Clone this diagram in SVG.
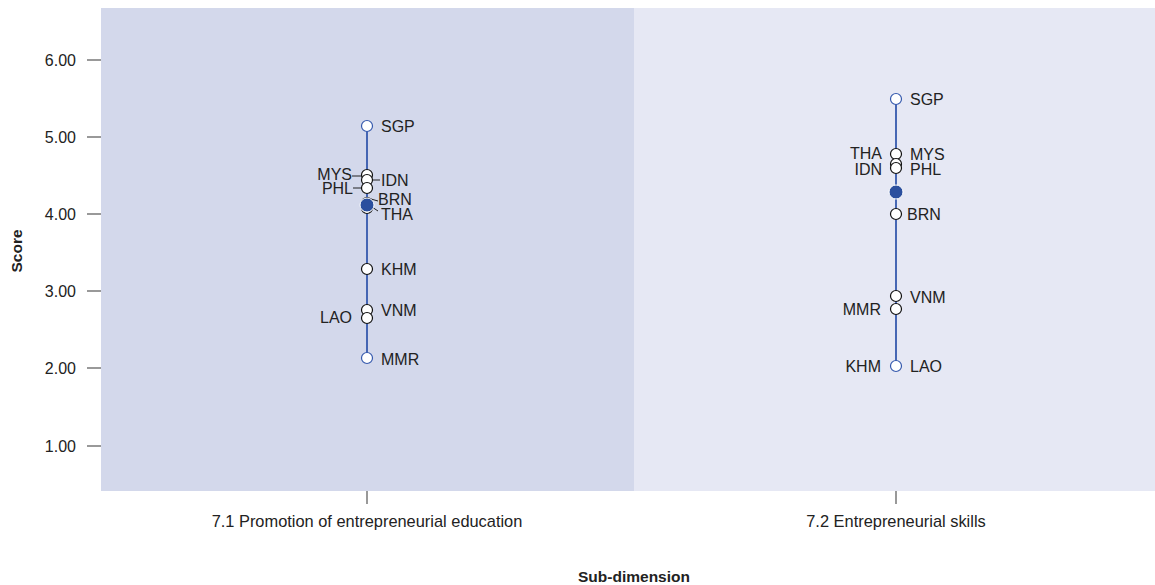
<svg xmlns="http://www.w3.org/2000/svg" width="1155" height="585" viewBox="0 0 1155 585">
<style>
text{font-family:"Liberation Sans",Arial,sans-serif;font-size:16px;fill:#222}
.tick{stroke:#555;stroke-width:1.2}
.rng{stroke:#3559ad;stroke-width:1.8}
.pt{fill:#fff;stroke:#111;stroke-width:1.2}
.ext{fill:#fff;stroke:#3559ad;stroke-width:1.2}
.mean{fill:#2b4f9e;stroke:#fff;stroke-width:1}
.ld{stroke:#222;stroke-width:1;fill:none}
.r{text-anchor:end}
.cat{font-size:16.4px}
.ttl{font-weight:bold;font-size:15.5px}
</style>
<rect width="1155" height="585" fill="#fff"/>
<g id="panels">
<rect x="101" y="8" width="533" height="483" fill="#d3d8eb"/>
<rect x="634" y="8" width="521" height="483" fill="#e6e8f4"/>
</g>
<g id="yaxis">
<line class="tick" x1="87" y1="60" x2="101" y2="60"/>
<line class="tick" x1="87" y1="137" x2="101" y2="137"/>
<line class="tick" x1="87" y1="214" x2="101" y2="214"/>
<line class="tick" x1="87" y1="291" x2="101" y2="291"/>
<line class="tick" x1="87" y1="368" x2="101" y2="368"/>
<line class="tick" x1="87" y1="446" x2="101" y2="446"/>
<text class="r" x="76" y="66">6.00</text>
<text class="r" x="76" y="143">5.00</text>
<text class="r" x="76" y="220">4.00</text>
<text class="r" x="76" y="297">3.00</text>
<text class="r" x="76" y="374">2.00</text>
<text class="r" x="76" y="452">1.00</text>
<text class="ttl" transform="translate(22,251) rotate(-90)" text-anchor="middle">Score</text>
</g>
<g id="xaxis">
<line class="tick" x1="367" y1="491" x2="367" y2="504"/>
<line class="tick" x1="896" y1="491" x2="896" y2="504"/>
<text class="cat" x="367" y="527" text-anchor="middle">7.1 Promotion of entrepreneurial education</text>
<text class="cat" x="896" y="527" text-anchor="middle">7.2 Entrepreneurial skills</text>
<text class="ttl" x="634" y="582" text-anchor="middle">Sub-dimension</text>
</g>
<g id="connectors">
<line class="rng" x1="367" y1="126" x2="367" y2="358"/>
<line class="rng" x1="896" y1="99" x2="896" y2="366"/>
<line class="ld" x1="352" y1="176" x2="362" y2="176"/>
<line class="ld" x1="372" y1="180" x2="380" y2="180"/>
<line class="ld" x1="353" y1="188" x2="361" y2="188"/>
<line class="ld" x1="371" y1="199" x2="378" y2="201"/>
<line class="ld" x1="372" y1="207" x2="378" y2="211"/>
</g>
<g id="col71">
<circle class="ext" cx="367" cy="126" r="5.5"/>
<circle class="pt" cx="367" cy="175" r="5.5"/>
<circle class="pt" cx="367" cy="180" r="5.5"/>
<circle class="pt" cx="367" cy="188" r="5.5"/>
<circle class="pt" cx="367" cy="203" r="5.5"/>
<circle class="pt" cx="367" cy="208" r="5.5"/>
<circle class="mean" cx="367" cy="205" r="7"/>
<circle class="pt" cx="367" cy="269" r="5.5"/>
<circle class="pt" cx="367" cy="310" r="5.5"/>
<circle class="pt" cx="367" cy="318" r="5.5"/>
<circle class="ext" cx="367" cy="358" r="5.5"/>
<text x="381" y="132">SGP</text>
<text class="r" x="352" y="180">MYS</text>
<text x="381" y="186">IDN</text>
<text class="r" x="353" y="194">PHL</text>
<text x="378" y="205">BRN</text>
<text x="381" y="220">THA</text>
<text x="381" y="275">KHM</text>
<text x="381" y="316">VNM</text>
<text class="r" x="352" y="323">LAO</text>
<text x="381" y="365">MMR</text>
</g>
<g id="col72">
<circle class="ext" cx="896" cy="99" r="5.5"/>
<circle class="pt" cx="896" cy="154" r="5.5"/>
<circle class="pt" cx="896" cy="164" r="5.5"/>
<circle class="pt" cx="896" cy="168" r="5.5"/>
<circle class="mean" cx="896" cy="192" r="7"/>
<circle class="pt" cx="896" cy="214" r="5.5"/>
<circle class="pt" cx="896" cy="296" r="5.5"/>
<circle class="pt" cx="896" cy="309" r="5.5"/>
<circle class="ext" cx="896" cy="366" r="5.5"/>
<text x="910" y="105">SGP</text>
<text class="r" x="882" y="159">THA</text>
<text x="910" y="160">MYS</text>
<text class="r" x="882" y="175">IDN</text>
<text x="910" y="175">PHL</text>
<text x="907" y="220">BRN</text>
<text x="910" y="303">VNM</text>
<text class="r" x="881" y="315">MMR</text>
<text class="r" x="881" y="372">KHM</text>
<text x="910" y="372">LAO</text>
</g>
</svg>
